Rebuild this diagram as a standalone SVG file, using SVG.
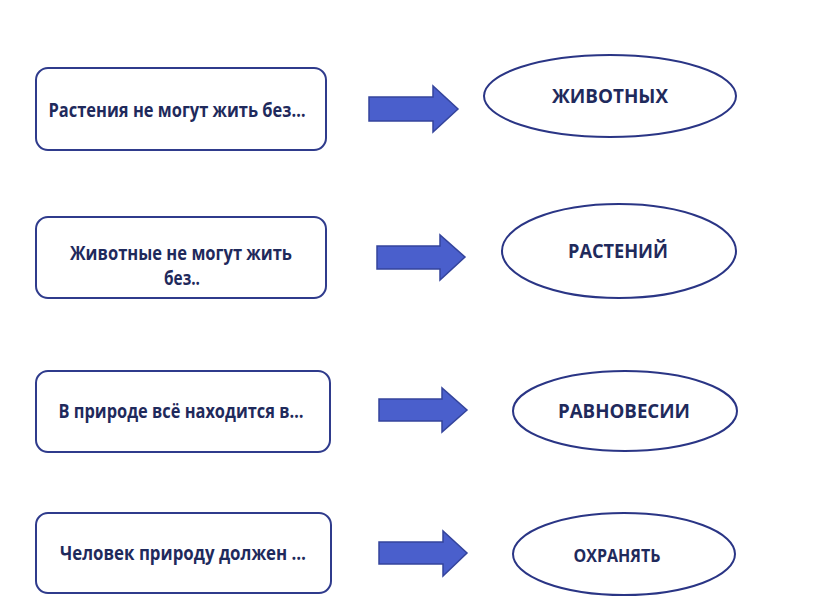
<svg xmlns="http://www.w3.org/2000/svg" width="816" height="613" viewBox="0 0 816 613">
<style>
.box{fill:#fff;stroke:#2f3b8c;stroke-width:2}
.ell{fill:#fff;stroke:#2a3585;stroke-width:2}
.arr{fill:#4a5fcc;stroke:#34449c;stroke-width:1.5;stroke-linejoin:miter}
text{font-family:"Open Sans","Noto Sans",sans-serif;font-weight:700;fill:#1f2a5c;text-anchor:middle;font-size:19px}
</style>
<rect width="816" height="613" fill="#fff"/>
<g id="q1"><rect class="box" x="36" y="68" width="290" height="82" rx="12"/><text x="177" y="117" textLength="257" lengthAdjust="spacingAndGlyphs">Растения не могут жить без…</text></g>
<g id="q2"><rect class="box" x="36" y="217" width="290" height="81" rx="12"/><text x="181" y="260" textLength="222" lengthAdjust="spacingAndGlyphs">Животные не могут жить</text><text x="182" y="285" textLength="36" lengthAdjust="spacingAndGlyphs">без..</text></g>
<g id="q3"><rect class="box" x="36" y="371" width="294" height="81" rx="12"/><text x="181" y="418" textLength="245" lengthAdjust="spacingAndGlyphs">В природе всё находится в…</text></g>
<g id="q4"><rect class="box" x="36" y="513" width="295" height="80" rx="12"/><text x="183" y="560" textLength="246" lengthAdjust="spacingAndGlyphs">Человек природу должен …</text></g>
<g id="a1"><ellipse class="ell" cx="610" cy="96" rx="126" ry="41"/><text x="610" y="103" textLength="116" lengthAdjust="spacingAndGlyphs">ЖИВОТНЫХ</text></g>
<g id="a2"><ellipse class="ell" cx="619" cy="251" rx="117" ry="47"/><text x="618" y="258" textLength="100" lengthAdjust="spacingAndGlyphs">РАСТЕНИЙ</text></g>
<g id="a3"><ellipse class="ell" cx="625" cy="411" rx="112" ry="40"/><text x="624" y="418" textLength="132" lengthAdjust="spacingAndGlyphs">РАВНОВЕСИИ</text></g>
<g id="a4"><ellipse class="ell" cx="624" cy="554" rx="111" ry="41"/><text x="617" y="562" style="font-size:17px" textLength="87" lengthAdjust="spacingAndGlyphs">ОХРАНЯТЬ</text></g>
<g id="connectors">
<polygon class="arr" points="369,97 433,97 433,86 458,109 433,132 433,121 369,121"/>
<polygon class="arr" points="377,246 440,246 440,235 465,257 440,280 440,269 377,269"/>
<polygon class="arr" points="379,399 442,399 442,388 467,410 442,432 442,421 379,421"/>
<polygon class="arr" points="379,542 443,542 443,531 467,553 443,576 443,564 379,564"/>
</g>
</svg>
